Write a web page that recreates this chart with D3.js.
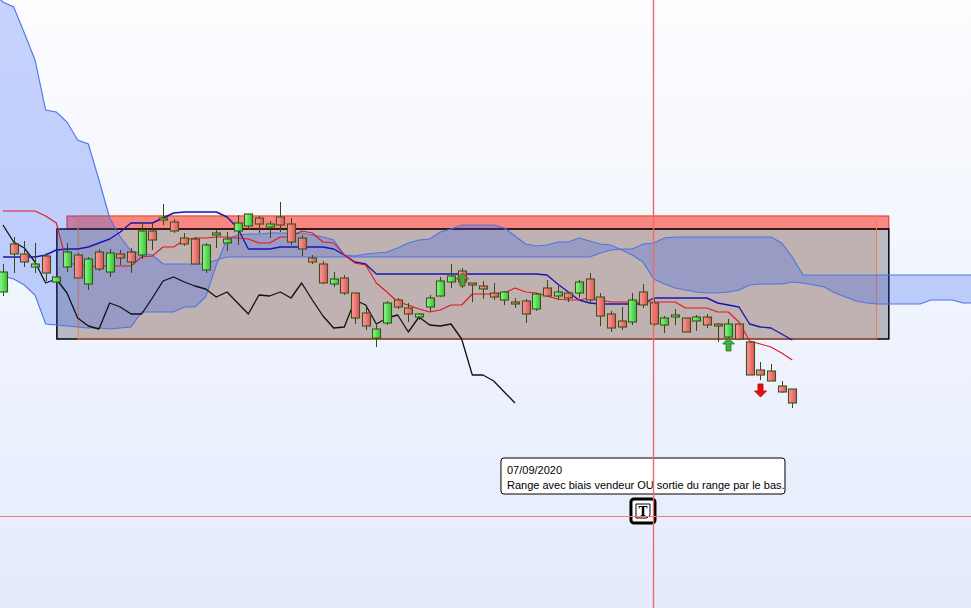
<!DOCTYPE html>
<html>
<head>
<meta charset="utf-8" />
<title>Range avec biais vendeur</title>
<script src="https://d3js.org/d3.v7.min.js"></script>
<style>
  body { margin: 0; overflow: hidden; }
  svg { display: block; }
</style>
</head>
<body>
<svg width="971" height="608"></svg>
<script>
// Candles, bar 0 .. 74
var open = [35.8,40.6,39.6,38.3,39.4,36.8,38.3,39.5,36.6,39.8, 37.8,39.6,39.8,39.5,41.9,43.0,42.8,41.2,41.1,38.0,
            41.5,40.7,41.9,42.4,43.2,42.3,43.3,42.6,41.2,39.2, 38.6,36.6,37.2,35.7,33.7,31.2,32.7,35.0,34.2,33.3,
            34.3,35.4,36.8,37.9,36.7,36.4,35.7,35.0,34.8,34.9, 34.1,36.2,35.4,35.7,35.7,37.1,35.3,33.6,32.9,32.8,
            35.8,34.7,32.5,33.3,33.2,32.9,33.3,32.6,31.3,32.6, 30.8,28.0,27.9,26.4,26.1];
var high = [38.6,41.3,40.9,40.7,39.7,37.4,40.7,39.7,39.3,40.1, 40.1,40.0,40.2,42.8,42.7,44.6,43.1,41.7,41.3,40.7,
            42.1,41.8,43.5,43.6,43.4,42.9,44.8,43.2,41.5,39.5, 38.9,37.8,37.5,35.7,34.3,32.5,34.9,35.2,34.7,33.7,
            35.5,37.3,38.6,38.2,36.7,36.9,36.7,35.9,35.2,35.1, 35.7,37.0,36.4,35.8,37.0,37.7,35.7,33.9,34.3,35.7,
            36.6,35.1,33.4,34.1,33.2,33.5,33.6,32.7,33.1,32.6, 30.9,28.8,28.6,26.9,26.1];
var low = [35.4,37.7,38.3,37.7,36.9,36.7,37.8,37.2,36.0,37.9, 37.3,38.5,37.7,39.1,40.0,42.5,41.7,40.4,38.6,37.7,
           40.2,39.9,40.5,42.0,41.7,41.2,41.8,40.5,39.4,38.6, 36.6,36.3,35.5,32.6,32.0,30.3,32.5,34.1,32.8,33.0,
           33.8,35.3,36.2,36.2,34.8,35.1,35.0,34.5,34.2,32.7, 33.9,35.5,35.0,34.8,35.2,34.7,32.4,31.8,32.0,32.5,
           34.2,32.4,31.7,32.5,31.8,31.9,32.2,30.8,31.1,31.0, 27.5,27.0,26.9,25.7,24.2];
var close = [37.8,39.6,38.8,38.6,37.7,37.3,39.8,37.2,39.1,38.1, 39.7,39.2,38.8,41.9,41.0,43.2,41.9,40.6,38.6,40.5,
             41.7,41.1,42.7,43.6,42.6,42.6,42.5,40.8,40.1,38.8, 36.7,37.1,35.7,33.2,32.4,32.1,34.7,34.3,33.6,33.6,
             35.2,36.9,37.4,36.8,36.5,36.1,35.3,35.8,34.6,33.6, 35.6,35.4,35.8,35.2,36.8,35.0,33.4,32.2,32.3,35.0,
             34.5,32.6,33.2,33.5,31.8,33.3,32.5,32.4,32.6,31.1, 27.5,27.5,26.9,25.8,24.7];

// Ichimoku lines, bar 0 .. 74
var tenkan = [43.9,43.9,43.9,43.9,43.4,42.7,38.6,38.6,38.3,38.4, 38.4,38.4,38.4,39.3,39.4,40.3,40.3,41.0,41.2,41.2,
              41.3,41.3,41.2,41.1,40.7,40.7,41.3,41.3,41.9,41.7, 40.8,40.7,39.5,38.7,38.5,36.7,35.8,34.8,34.5,34.1,
              33.8,34.0,34.5,34.5,35.6,35.6,35.6,35.7,36.2,35.8, 35.7,35.4,35.1,35.0,35.0,35.2,35.0,34.8,34.8,34.8,
              34.8,34.8,34.8,34.8,34.2,34.2,34.2,33.8,33.8,32.8, 30.9,30.6,30.3,29.7,29.0];
var kijun = [39.3,39.3,39.3,39.3,39.5,40.0,40.1,40.1,40.3,40.7, 41.1,41.8,42.7,42.7,42.7,43.2,43.7,43.8,43.8,43.8,
             43.8,43.3,42.2,40.1,40.1,40.1,40.3,40.3,40.3,40.3, 40.3,40.1,39.5,38.8,38.6,37.6,37.6,37.6,37.6,37.6,
             37.6,37.6,37.6,37.6,37.6,37.6,37.6,37.6,37.6,37.6, 37.6,37.5,36.6,35.8,35.0,34.7,34.6,34.6,34.6,34.6,
             34.6,35.2,35.2,35.2,35.2,35.2,35.2,34.7,34.5,34.3, 32.6,32.3,32.2,31.6,31.0];
// lagging line, bar 0 .. 48
var chikou = [42.5,40.8,40.2,38.8,36.7,37.1,35.7,33.2,32.4,32.1, 34.7,34.3,33.6,33.6,35.2,36.9,37.3,36.8,36.4,36.1,
              35.3,35.8,34.7,33.6,35.5,35.4,35.8,35.2,36.7,35.0, 33.4,32.2,32.3,35.0,34.5,32.6,33.2,33.5,31.8,33.3,
              32.5,32.4,32.6,31.1,27.5,27.5,26.9,25.8,24.7];

// cloud, bar -1 .. 91 (runs ahead of the last candle)
var cloudStart = -1;
var spanA = [65.8,64.8,64.3,61.7,59.0,54.0,53.8,52.8,51.0,50.6, 47.0,43.2,41.3,39.9,39.7,39.5,38.6,38.6,38.6,38.6,
             38.6,39.0,39.3,39.3,39.3,39.3,39.3,39.3,39.3,39.3, 39.3,39.3,39.3,39.3,39.3,39.3,39.3,39.3,39.3,39.3,
             39.3,39.3,39.3,39.3,39.3,39.3,39.3,39.3,39.3,39.3, 39.3,39.3,39.3,39.3,39.3,39.3,39.3,39.7,40.0,40.1,
             40.1,40.6,40.7,41.2,41.3,41.3,41.3,41.3,41.3,41.3, 41.3,41.3,41.3,41.3,40.7,39.3,37.5,37.5,37.5,37.5,
             37.5,37.5,37.5,37.5,37.5,37.5,37.5,37.5,37.5,37.5, 37.5,37.5,37.5];
var spanB = [38.0,37.4,37.1,36.5,35.5,32.6,32.5,32.4,32.3,32.2, 32.2,32.1,32.2,32.3,33.8,33.8,33.8,33.8,34.3,34.3,
             35.3,38.5,41.1,41.5,41.6,41.6,41.7,41.7,41.7,41.7, 41.5,41.3,41.0,39.5,39.4,39.6,39.7,39.8,40.2,40.7,
             41.0,41.1,41.8,42.1,42.5,42.5,42.5,42.5,42.2,41.4, 40.6,40.4,40.5,40.8,40.8,41.2,40.9,40.6,40.5,40.0,
             39.5,38.8,37.1,36.6,36.2,36.0,35.8,35.7,35.7,35.8, 36.0,36.5,36.6,36.6,36.6,36.8,36.7,36.5,36.3,35.7,
             35.3,34.9,34.7,34.6,34.6,34.6,34.6,34.6,35.0,35.0, 35.0,34.7,34.7];

// drawn objects (bar / price bounds)
var zones = [
  { name: "range",   b0: 5.05, b1: 83.05, p0: 31.1, p1: 42.1 },
  { name: "biais",   b0: 7.05, b1: 81.9,  p0: 31.1, p1: 43.4 },
  { name: "vendeur", b0: 6.0,  b1: 83.05, p0: 42.1, p1: 43.4 }
];
var arrows = [
  { bar: 43, price: 37.7, dir: "up" },
  { bar: 68, price: 31.2, dir: "up" },
  { bar: 71, price: 25.3, dir: "down" }
];
var noteBar = 60, notePrice = 13.9;
var noteDate = "07/09/2020";
var noteText = "Range avec biais vendeur OU sortie du range par le bas.";
var crossBar = 60.95, crossPrice = 13.4;

var svg = d3.select("svg");
var width = +svg.attr("width"), height = +svg.attr("height");

var x = d3.scaleLinear().domain([0, 74]).range([3, 792.3]);
var y = d3.scaleLinear().domain([4.2, 65]).range([height, 0]);

var defs = svg.append("defs");
var bg = defs.append("linearGradient").attr("id", "bg").attr("x1", 0).attr("y1", 0).attr("x2", 0).attr("y2", 1);
bg.append("stop").attr("offset", "0%").attr("stop-color", "#fdfdff");
bg.append("stop").attr("offset", "100%").attr("stop-color", "#e3ebfc");

function grad(id, c0, c1, c2) {
  var g = defs.append("linearGradient").attr("id", id).attr("x1", 0).attr("y1", 0).attr("x2", 1).attr("y2", 0);
  g.append("stop").attr("offset", "0%").attr("stop-color", c0);
  g.append("stop").attr("offset", "45%").attr("stop-color", c1);
  g.append("stop").attr("offset", "100%").attr("stop-color", c2);
}
grad("up", "#9af59a", "#5fe35f", "#36c236");
grad("down", "#f8a0a0", "#f07a7a", "#dc5656");

svg.append("rect").attr("width", width).attr("height", height).attr("fill", "url(#bg)");

// zones
var zoneFill = { range: "rgba(112,116,126,0.45)", biais: "rgba(215,160,135,0.3)", vendeur: "rgba(248,120,115,0.85)" };
var zoneStroke = { range: "#000", biais: "#f0804a", vendeur: "#e02a2a" };
function zoneRect(sel) {
  sel.attr("x", function (d) { return x(d.b0); })
    .attr("y", function (d) { return y(d.p1); })
    .attr("width", function (d) { return x(d.b1) - x(d.b0); })
    .attr("height", function (d) { return y(d.p0) - y(d.p1); });
}
svg.selectAll(".zone").data(zones).enter().append("rect").attr("class", "zone")
  .call(zoneRect)
  .attr("fill", function (d) { return zoneFill[d.name]; });
// outlines: band first, then range, then bias zone
svg.selectAll(".zoneline").data([zones[2], zones[0], zones[1]]).enter().append("rect").attr("class", "zoneline")
  .call(zoneRect)
  .attr("fill", "none")
  .attr("stroke", function (d) { return zoneStroke[d.name]; })
  .attr("stroke-width", function (d) { return d.name == "range" ? 1.5 : 1; });

// cloud
var cloudIdx = d3.range(spanA.length);
var cx = function (i) { return x(i + cloudStart); };
svg.append("path").datum(cloudIdx)
  .attr("fill", "rgba(40,90,245,0.26)")
  .attr("d", d3.area().x(cx).y0(function (i) { return y(spanA[i]); }).y1(function (i) { return y(spanB[i]); }));
[spanA, spanB].forEach(function (s) {
  svg.append("path").datum(cloudIdx)
    .attr("fill", "none").attr("stroke", "#4f74e4").attr("stroke-width", 1.1)
    .attr("d", d3.line().x(cx).y(function (i) { return y(s[i]); }));
});

function drawLine(values, color, w) {
  svg.append("path").datum(values)
    .attr("fill", "none").attr("stroke", color).attr("stroke-width", w)
    .attr("stroke-linejoin", "round")
    .attr("d", d3.line().x(function (d, i) { return x(i); }).y(function (d) { return y(d); }));
}
drawLine(chikou, "#111", 1.3);
drawLine(kijun, "#1616b4", 1.4);
drawLine(tenkan, "#e3161e", 1.1);

// candles
var bars = d3.range(open.length);
var g = svg.append("g");
g.selectAll(".wick").data(bars).enter().append("line")
  .attr("x1", function (i) { return Math.round(x(i)) + 0.5; })
  .attr("x2", function (i) { return Math.round(x(i)) + 0.5; })
  .attr("y1", function (i) { return y(high[i]); })
  .attr("y2", function (i) { return y(low[i]); })
  .attr("stroke", "#2f4a12").attr("stroke-width", 1);
g.selectAll(".body").data(bars).enter().append("rect")
  .attr("x", function (i) { return Math.round(x(i)) - 3.5; })
  .attr("width", 8)
  .attr("y", function (i) { return y(Math.max(open[i], close[i])); })
  .attr("height", function (i) { return Math.max(1.5, Math.abs(y(open[i]) - y(close[i]))); })
  .attr("fill", function (i) { return close[i] >= open[i] ? "url(#up)" : "url(#down)"; })
  .attr("stroke", "#3c5216").attr("stroke-width", 1.1);

// signal arrows
var upPath = "M0,0 L6,6 L2.5,6 L2.5,13 L-2.5,13 L-2.5,6 L-6,6 Z";
svg.selectAll(".arrow").data(arrows).enter().append("path")
  .attr("d", upPath)
  .attr("transform", function (d) {
    var t = "translate(" + (Math.round(x(d.bar)) + 0.5) + "," + y(d.price) + ")";
    return d.dir == "up" ? t : t + " scale(1,-1)";
  })
  .attr("fill", function (d) { return d.dir == "up" ? "#3bae3b" : "#e41010"; })
  .attr("stroke", function (d) { return d.bar == 43 ? "#8a2a14" : (d.dir == "up" ? "#2a7a2a" : "#b00000"); })
  .attr("stroke-width", 0.8);

// note
var nx = x(noteBar), ny = y(notePrice);
var note = svg.append("g").style("font-family", "'Liberation Sans', Arial, sans-serif").style("font-size", "11px");
note.append("rect").attr("x", nx - 142).attr("y", ny - 53).attr("width", 284).attr("height", 36)
  .attr("rx", 3).attr("fill", "#fff").attr("stroke", "#000").attr("stroke-width", 1);
note.append("text").attr("x", nx - 136).attr("y", ny - 37).text(noteDate);
note.append("text").attr("x", nx - 136).attr("y", ny - 22).text(noteText);

note.append("rect").attr("x", nx - 12).attr("y", ny - 12).attr("width", 24).attr("height", 24)
  .attr("rx", 3).attr("fill", "#fff").attr("stroke", "#000").attr("stroke-width", 3);
note.append("path")
  .attr("d", "M" + (nx - 7) + "," + (ny - 7) + " h14 v11 l-3,3 h-11 Z")
  .attr("fill", "#fff").attr("stroke", "#000").attr("stroke-width", 1);
note.append("text").attr("x", nx).attr("y", ny + 4.5).attr("text-anchor", "middle")
  .style("font-family", "'DejaVu Serif', 'Liberation Serif', serif").style("font-weight", "bold").style("font-size", "12px")
  .text("T");

// crosshair
var vx = Math.round(x(crossBar)), hy = Math.round(y(crossPrice));
svg.append("line").attr("x1", vx + 0.5).attr("x2", vx + 0.5).attr("y1", 0).attr("y2", height)
  .attr("stroke", "#f06868").attr("stroke-width", 1.4);
svg.append("line").attr("x1", 0).attr("x2", width).attr("y1", hy + 0.5).attr("y2", hy + 0.5)
  .attr("stroke", "#f07c7c").attr("stroke-width", 1);
</script>
</body>
</html>
